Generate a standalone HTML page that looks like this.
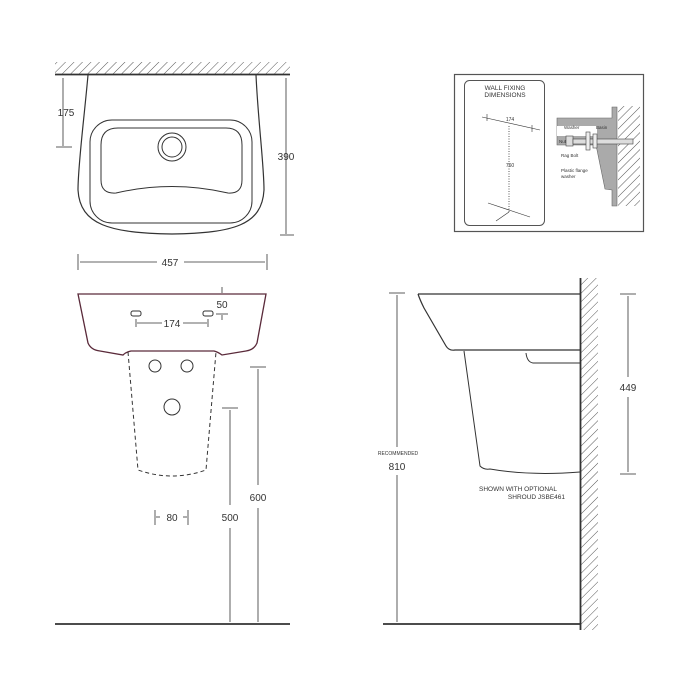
<!DOCTYPE html>
<html><head><meta charset="utf-8"><style>body{margin:0;background:#fff}svg{display:block}text{font-family:"Liberation Sans",sans-serif;fill:#333}</style></head><body>
<svg width="700" height="700" viewBox="0 0 700 700" xmlns="http://www.w3.org/2000/svg">
<defs>
<pattern id="h" width="6" height="6" patternUnits="userSpaceOnUse" patternTransform="rotate(45)"><line x1="0" y1="0" x2="0" y2="6" stroke="#555" stroke-width="1"/></pattern>
</defs>
<g stroke="#333" fill="none" stroke-width="1">
<!-- TOP VIEW -->
<rect x="55" y="62" width="235" height="12" fill="url(#h)" stroke="none"/>
<line x1="55" y1="74.5" x2="290" y2="74.5" stroke-width="1.8"/>
<path d="M88,75 C84,120 78,165 78,190 C80,225 110,233 172,234 C234,233 262,225 264,190 C264,165 258,120 256,75" stroke-width="1.2"/>
<rect x="90" y="120" width="162" height="103" rx="22" stroke-width="1"/>
<path d="M118,128 L226,128 Q242,128 242,145 L242,180 Q242,194 228,193 Q172,180 116,193 Q101,194 101,180 L101,145 Q101,128 118,128 Z"/>
<circle cx="172" cy="147" r="14"/><circle cx="172" cy="147" r="10"/>
<line x1="63" y1="78" x2="63" y2="146" stroke-width="0.8"/><line x1="56" y1="147" x2="72" y2="147" stroke-width="0.8"/>
<line x1="286" y1="78" x2="286" y2="234" stroke-width="0.8"/><line x1="280" y1="235" x2="294" y2="235" stroke-width="0.8"/>
<line x1="78" y1="254" x2="78" y2="270" stroke-width="0.8"/><line x1="267" y1="254" x2="267" y2="270" stroke-width="0.8"/>
<line x1="80" y1="262" x2="157" y2="262" stroke-width="0.8"/><line x1="184" y1="262" x2="265" y2="262" stroke-width="0.8"/>
<!-- FRONT VIEW -->
<path d="M78,294 L266,294 L257,343 Q254,350 246,351 L222,355 Q218,352 214,351 L131,351 Q126,352 123,355 L100,351 Q91,350 88,343 Z" stroke="#5a2a3a" stroke-width="1.3"/>
<rect x="131" y="311" width="10" height="5" rx="2"/><rect x="203" y="311" width="10" height="5" rx="2"/>
<line x1="137" y1="323" x2="162" y2="323" stroke-width="0.8"/><line x1="183" y1="323" x2="207" y2="323" stroke-width="0.8"/>
<line x1="136" y1="319" x2="136" y2="327" stroke-width="0.8"/><line x1="208" y1="319" x2="208" y2="327" stroke-width="0.8"/>
<line x1="222" y1="287" x2="222" y2="293" stroke-width="0.8"/><line x1="216" y1="314" x2="228" y2="314" stroke-width="0.8"/><line x1="222" y1="315" x2="222" y2="320" stroke-width="0.8"/>
<path d="M128,352 L138,470 Q172,482 206,470 L216,352" stroke-dasharray="4,3"/>
<circle cx="155" cy="366" r="6"/><circle cx="187" cy="366" r="6"/><circle cx="172" cy="407" r="8"/>
<line x1="155" y1="510" x2="155" y2="525" stroke-width="0.8"/><line x1="188" y1="510" x2="188" y2="525" stroke-width="0.8"/>
<line x1="156" y1="517" x2="160" y2="517" stroke-width="0.8"/><line x1="183" y1="517" x2="187" y2="517" stroke-width="0.8"/>
<line x1="222" y1="408" x2="238" y2="408" stroke-width="0.8"/><line x1="230" y1="410" x2="230" y2="505" stroke-width="0.8"/><line x1="230" y1="528" x2="230" y2="622" stroke-width="0.8"/>
<line x1="250" y1="367" x2="266" y2="367" stroke-width="0.8"/><line x1="258" y1="369" x2="258" y2="485" stroke-width="0.8"/><line x1="258" y1="508" x2="258" y2="622" stroke-width="0.8"/>
<line x1="55" y1="624" x2="290" y2="624" stroke-width="1.8"/>
<!-- SIDE VIEW -->
<rect x="581" y="278" width="17" height="352" fill="url(#h)" stroke="none"/>
<line x1="580.5" y1="278" x2="580.5" y2="630" stroke-width="1.8"/>
<line x1="383" y1="624" x2="580" y2="624" stroke-width="1.8"/>
<line x1="389" y1="293" x2="405" y2="293" stroke-width="0.8"/><line x1="397" y1="295" x2="397" y2="447" stroke-width="0.8"/><line x1="397" y1="475" x2="397" y2="622" stroke-width="0.8"/>
<path d="M418,294 L580,294 M418,294 Q420,300 424,308 L446,346 Q449,351 455,350 L580,350" stroke-width="1.2"/>
<path d="M526,353 Q527,362 533,363 L580,363" />
<path d="M464,351 L480,466 Q484,470 490,469 Q530,476 580,472"/>
<line x1="620" y1="294" x2="636" y2="294" stroke-width="0.8"/><line x1="628" y1="296" x2="628" y2="377" stroke-width="0.8"/><line x1="628" y1="397" x2="628" y2="472" stroke-width="0.8"/><line x1="620" y1="474" x2="636" y2="474" stroke-width="0.8"/>
<!-- WALL FIXING BOX -->
<rect x="454.5" y="74.5" width="189" height="157" stroke="#555" stroke-width="1.2"/>
<rect x="464.5" y="80.5" width="80" height="145" rx="5" stroke="#555"/>
<line x1="482" y1="117" x2="540" y2="130" stroke-width="0.6"/>
<line x1="487" y1="114" x2="487" y2="121" stroke-width="0.6"/><line x1="532" y1="125" x2="532" y2="132" stroke-width="0.6"/>
<line x1="509" y1="126" x2="509" y2="212" stroke-dasharray="1,1.5" stroke-width="0.8"/>
<line x1="488" y1="203" x2="530" y2="217" stroke-width="0.6"/><line x1="509" y1="212" x2="496" y2="221" stroke-width="0.6"/>
<path d="M557,118 L612,118 L612,107 L617,107 L617,206 L612,206 L612,190 L605,189 L596,145 L557,145 Z" fill="#aaa" stroke="#666" stroke-width="0.6"/>
<rect x="557" y="126" width="40" height="10" fill="#fff" stroke="none"/>
<rect x="618" y="106" width="22" height="100" fill="url(#h)" stroke="none"/>
<rect x="566" y="136" width="7" height="10" fill="#ddd" stroke="#444" stroke-width="0.6"/>
<rect x="573" y="139" width="60" height="5" fill="#ddd" stroke="#444" stroke-width="0.6"/>
<rect x="586" y="132" width="4" height="18" fill="#eee" stroke="#444" stroke-width="0.6"/>
<rect x="593" y="134" width="4" height="14" fill="#eee" stroke="#444" stroke-width="0.6"/>
</g>
<g font-size="10">
<text x="66" y="116" text-anchor="middle">175</text>
<text x="286" y="160" text-anchor="middle">390</text>
<text x="170" y="266" text-anchor="middle">457</text>
<text x="172" y="327" text-anchor="middle">174</text>
<text x="222" y="308" text-anchor="middle">50</text>
<text x="172" y="521" text-anchor="middle">80</text>
<text x="230" y="521" text-anchor="middle">500</text>
<text x="258" y="501" text-anchor="middle">600</text>
<text x="397" y="470" text-anchor="middle">810</text>
<text x="628" y="391" text-anchor="middle">449</text>
</g>
<text x="398" y="455" font-size="5" text-anchor="middle">RECOMMENDED</text>
<text x="479" y="491" font-size="6.5">SHOWN WITH OPTIONAL</text>
<text x="565" y="499" font-size="6.5" text-anchor="end">SHROUD JSBE461</text>
<text x="505" y="90" font-size="6.5" text-anchor="middle">WALL FIXING</text>
<text x="505" y="97" font-size="6.5" text-anchor="middle">DIMENSIONS</text>
<text x="510" y="121" font-size="5" text-anchor="middle">174</text>
<text x="510" y="167" font-size="5" text-anchor="middle">760</text>
<text x="564" y="129" font-size="4.5">Washer</text>
<text x="596" y="129" font-size="4.5">Basin</text>
<text x="559" y="143" font-size="4.5">Nut</text>
<text x="561" y="157" font-size="4.5">Rag Bolt</text>
<text x="561" y="172" font-size="4.5">Plastic flange</text>
<text x="561" y="178" font-size="4.5">washer</text>
</svg>
</body></html>
